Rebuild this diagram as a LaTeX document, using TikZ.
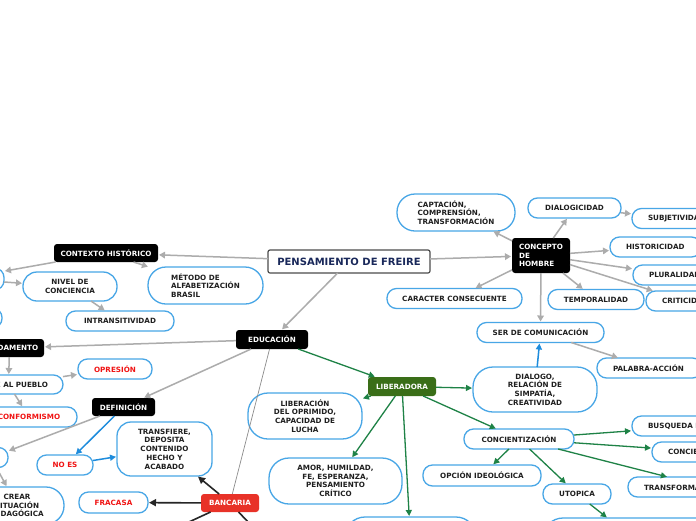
\documentclass[tikz,border=0pt]{standalone}
\usepackage{fontspec}
\setmainfont{DejaVu Sans}
\usetikzlibrary{arrows.meta}
\definecolor{bblue}{RGB}{72,166,230}
\definecolor{agrey}{RGB}{172,172,172}
\definecolor{agreen}{RGB}{30,130,70}
\definecolor{libgreen}{RGB}{58,110,24}
\definecolor{banred}{RGB}{232,50,40}
\definecolor{tred}{RGB}{240,20,20}
\definecolor{navy}{RGB}{25,40,90}
\definecolor{ablue}{RGB}{30,140,220}
\begin{document}
\begin{tikzpicture}[x=1pt,y=-1pt,
  every node/.style={font=\fontsize{7.2}{8.7}\selectfont\bfseries, inner sep=0pt, outer sep=0pt},
  bnode/.style={draw=bblue, line width=1.3pt, rounded corners=9.5pt, fill=white, align=center, text=black!88, minimum height=20pt},
  pnode/.style={bnode, align=left, inner xsep=16pt},
  knode/.style={fill=black, text=white, rounded corners=3pt, align=center, minimum height=18pt},
  titlebox/.style={draw=black!70, line width=1.2pt, rounded corners=2pt, fill=white, text=navy, font=\fontsize{10}{12}\selectfont\bfseries},
  redtxt/.style={text=tred},
  garrow/.style={draw=agrey, line width=1.5pt, -{Triangle[length=6pt,width=6.5pt]}, shorten >=1pt},
  grarrow/.style={draw=agreen, line width=1.3pt, -{Triangle[length=6pt,width=6pt]}, shorten >=1pt},
  blarrow/.style={draw=ablue, line width=1.5pt, -{Triangle[length=6pt,width=6pt]}, shorten >=1pt},
  karrow/.style={draw=black!85, line width=1.6pt, -{Triangle[length=7pt,width=7pt]}, shorten >=1pt},
  thinline/.style={draw=black!45, line width=0.7pt}
]
\useasboundingbox (0,0) rectangle (696,520);
\fill[white] (0,0) rectangle (696,520);
\clip (0,0) rectangle (696,520);

% root
\node[titlebox, minimum width=162pt, minimum height=23pt] (root) at (349,261.5) {PENSAMIENTO DE FREIRE};

% contexto branch
\node[knode, minimum width=104pt] (ctx) at (106,253) {CONTEXTO HISTÓRICO};
\node[bnode, rounded corners=18pt, minimum width=115pt, minimum height=37pt, align=left] (met) at (205.5,285.5) {MÉTODO DE\\ALFABETIZACIÓN\\BRASIL};
\node[bnode, rounded corners=14pt, minimum width=94pt, minimum height=29pt] (niv) at (70,286.5) {NIVEL DE\\CONCIENCIA};
\node[bnode, minimum width=108pt] (intr) at (120,321) {INTRANSITIVIDAD};
\node[bnode, minimum width=88pt, minimum height=22pt] (pl1) at (-40,279) {};
\node[bnode, minimum width=84pt] (pl2) at (-40,318) {};

% concepto de hombre
\node[knode, minimum width=58pt, minimum height=35pt, align=left] (con) at (541,255.5) {CONCEPTO\\DE\\HOMBRE};
\node[bnode, rounded corners=18pt, minimum width=118pt, minimum height=37pt, align=left] (cap) at (456,212.5) {CAPTACIÓN,\\COMPRENSIÓN,\\TRANSFORMACIÓN};
\node[bnode, minimum width=93pt] (dial) at (574.5,208) {DIALOGICIDAD};
\node[pnode, text width=58pt] (subj) at (677,218.5) {SUBJETIVIDAD};
\node[pnode, text width=59pt] (hist) at (655.5,247) {HISTORICIDAD};
\node[pnode, text width=52pt] (plur) at (675,275) {PLURALIDAD};
\node[pnode, text width=47pt] (crit) at (685.5,301) {CRITICIDAD};
\node[bnode, minimum width=96pt] (temp) at (596,299.5) {TEMPORALIDAD};
\node[bnode, minimum width=135pt] (carac) at (454.5,298.5) {CARACTER CONSECUENTE};
\node[bnode, minimum width=127pt] (ser) at (540.5,332.5) {SER DE COMUNICACIÓN};
\node[pnode, text width=73pt] (pal) at (649.5,368) {PALABRA-ACCIÓN};
\node[bnode, rounded corners=20pt, minimum width=124pt, minimum height=45pt] (dlg) at (535,389.5) {DIALOGO,\\RELACIÓN DE\\SIMPATÍA,\\CREATIVIDAD};

% educacion
\node[knode, minimum width=72pt, minimum height=19pt] (edu) at (272,339.5) {EDUCACIÓN};
\node[knode, minimum width=69pt] (fund) at (9.5,348) {FUNDAMENTO};
\node[bnode, minimum width=109pt, minimum height=19pt] (pue) at (8.5,384.5) {OPRIME AL PUEBLO};
\node[bnode, redtxt, minimum width=74pt] (opr) at (115,369) {OPRESIÓN};
\node[bnode, redtxt, minimum width=96pt] (conf) at (29,417) {CONFORMISMO};
\node[knode, minimum width=63pt] (def) at (123.5,407) {DEFINICIÓN};
\node[bnode, minimum width=34pt] (pl3) at (-9,457.5) {};
\node[bnode, rounded corners=18pt, minimum width=94pt, minimum height=37pt] (crear) at (17,505.5) {CREAR\\SITUACIÓN\\PEDAGÓGICA};
\node[bnode, redtxt, minimum width=56pt] (noes) at (65,465) {NO ES};
\node[bnode, rounded corners=14pt, minimum width=95pt, minimum height=54pt] (tra) at (164.5,449) {TRANSFIERE,\\DEPOSITA\\CONTENIDO\\HECHO Y\\ACABADO};
\node[knode, fill=banred, minimum width=58pt] (banc) at (230,503) {BANCARIA};
\node[bnode, redtxt, minimum width=69pt, minimum height=21pt] (fra) at (113.5,502.5) {FRACASA};
\coordinate (bl) at (150,540);
\coordinate (br) at (270,545);

% liberadora
\node[knode, fill=libgreen, minimum width=68pt, minimum height=19pt] (lib) at (402,386.5) {LIBERADORA};
\node[bnode, rounded corners=20pt, minimum width=114pt, minimum height=46pt] (libop) at (305,416) {LIBERACIÓN\\DEL OPRIMIDO,\\CAPACIDAD DE\\LUCHA};
\node[bnode, rounded corners=20pt, minimum width=133pt, minimum height=46pt] (amor) at (335.5,481) {AMOR, HUMILDAD,\\FE, ESPERANZA,\\PENSAMIENTO\\CRÍTICO};
\node[bnode, rounded corners=20pt, minimum width=131pt, minimum height=46pt] (lowlib) at (410.5,540) {};
\node[bnode, minimum width=110pt] (conc) at (519,439) {CONCIENTIZACIÓN};
\node[pnode, text width=100pt] (busq) at (698,426) {BUSQUEDA DE};
\node[pnode, text width=82pt] (conci) at (709,452) {CONCIENCIA};
\node[pnode, text width=126pt] (transf) at (707,487) {TRANSFORMACIÓN};
\node[bnode, minimum width=118pt, minimum height=21pt] (opc) at (482,475.5) {OPCIÓN IDEOLÓGICA};
\node[bnode, minimum width=68pt] (uto) at (577,494) {UTOPICA};
\node[bnode, rounded corners=20pt, minimum width=198pt, minimum height=54pt] (lowuto) at (642,545) {};

% grey connectors
\draw[garrow] (root) -- (ctx);
\draw[garrow] (root) -- (con);
\draw[garrow] (root) -- (edu);
\draw[garrow] (ctx) -- (pl1);
\draw[garrow] (ctx) -- (met);
\draw[garrow] (pl1) -- (niv);
\draw[garrow] (niv) -- (intr);
\draw[garrow] (con) -- (cap);
\draw[garrow] (con) -- (dial);
\draw[garrow] (con) -- (hist);
\draw[garrow] (con) -- (plur);
\draw[garrow] (con) -- (crit);
\draw[garrow] (con) -- (temp);
\draw[garrow] (con) -- (carac);
\draw[garrow] (con) -- (ser);
\draw[garrow] (dial) -- (subj);
\draw[garrow] (ser) -- (pal);
\draw[garrow] (edu) -- (fund);
\draw[garrow] (edu) -- (def);
\draw[garrow] (fund) -- (pue);
\draw[garrow] (pue) -- (opr);
\draw[garrow] (pue) -- (conf);
\draw[garrow] (def) -- (pl3);
\draw[garrow] (pl3) -- (crear);

% green connectors
\draw[grarrow] (edu) -- (lib);
\draw[grarrow] (lib) -- (dlg);
\draw[grarrow] (lib) -- (libop);
\draw[grarrow] (lib) -- (amor);
\draw[grarrow] (lib) -- (lowlib);
\draw[grarrow] (lib) -- (conc);
\draw[grarrow] (conc) -- (busq);
\draw[grarrow] (conc) -- (conci);
\draw[grarrow] (conc) -- (transf);
\draw[grarrow] (conc) -- (opc);
\draw[grarrow] (conc) -- (uto);
\draw[grarrow] (uto) -- (lowuto);

% blue connectors
\draw[blarrow] (def) -- (noes);
\draw[blarrow] (noes) -- (tra);
\draw[blarrow] (dlg) -- (ser);

% black connectors
\draw[karrow] (banc) -- (tra);
\draw[karrow] (banc) -- (fra);
\draw[karrow] (banc) -- (bl);
\draw[karrow] (banc) -- (br);

\draw[thinline] (edu) -- (banc);
\end{tikzpicture}
\end{document}
